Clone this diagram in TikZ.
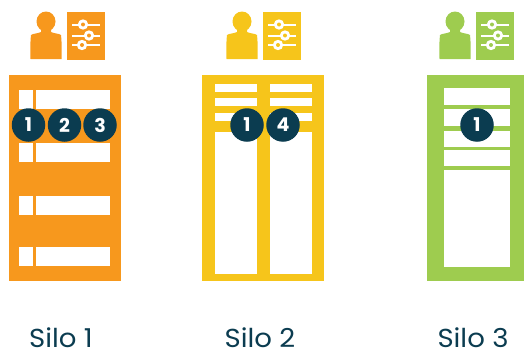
\documentclass[tikz,border=0pt]{standalone}
\usepackage{fontspec}
\setmainfont{Poppins}
\newfontfamily\silofont[FakeStretch=1.06]{Poppins}
\definecolor{navy}{HTML}{0B3C50}
\definecolor{orangeS}{HTML}{F7981D}
\definecolor{yellowS}{HTML}{F6C51B}
\definecolor{greenS}{HTML}{9ECC4F}
\tikzset{
  x=1pt,y=-1pt,
  badge/.style={circle,fill=navy,draw=none,minimum size=33.5pt,inner sep=0pt,text=white,font=\fontsize{19}{19}\selectfont\bfseries},
  silolabel/.style={text=navy,inner sep=0pt,anchor=base,font=\silofont\fontsize{26}{26}\selectfont},
  win/.style={fill=white,draw=none},
  slider/.style={draw=white,line width=2pt},
  pics/usericon/.style={code={
    \fill[#1] (-5,28) -- (5,28) -- (5,32)
      .. controls (8,33.5) and (13,33.5) .. (15,35)
      .. controls (16,44) and (15.5,52) .. (15.5,59)
      -- (-15.5,59)
      .. controls (-15.5,52) and (-16,44) .. (-15,35)
      .. controls (-13,33.5) and (-8,33.5) .. (-5,32) -- cycle;
    \fill[#1] (0,21.5) ellipse [x radius=9.5,y radius=10];
    \fill[#1] (21,12) rectangle (59,60);
    \draw[slider] (26,24.5) -- (54,24.5);
    \draw[slider] (26,35.5) -- (54,35.5);
    \draw[slider] (26,45) -- (54,45);
    \foreach \kx/\ky in {37/24.5,43/35.5,36/45}{
      \fill[white] (\kx,\ky) circle [radius=5.2];
      \fill[#1] (\kx,\ky) circle [radius=2];
    }
  }}
}
\begin{document}
\begin{tikzpicture}
\useasboundingbox (0,0) rectangle (524,348);
% icons
\pic at (46,0) {usericon=orangeS};
\pic at (242,0) {usericon=yellowS};
\pic at (455,0) {usericon=greenS};
% silo 1
\fill[orangeS] (9,75) rectangle (121,281);
\foreach \ya/\yb in {90/108.7,143/162,196/215,247/266}{
  \fill[win] (19,\ya) rectangle (33,\yb);
  \fill[win] (36,\ya) rectangle (110,\yb);
}
% silo 2
\fill[yellowS] (202,75) rectangle (324,281);
\foreach \ya/\yb in {84/92,98/106,113/121,132/274}{
  \fill[win] (215,\ya) rectangle (257,\yb);
  \fill[win] (270,\ya) rectangle (312,\yb);
}
% silo 3
\fill[greenS] (427,74.5) rectangle (524,281);
\foreach \ya/\yb in {88/105,109/126,131/147,150/166,170/267}{
  \fill[win] (444,\ya) rectangle (510,\yb);
}
% badges
\node[badge] (a1) at (28.5,125) {1};
\node[badge] (a2) at (64.5,125) {2};
\node[badge] (a3) at (100,125) {3};
\node[badge] (b1) at (247,125) {1};
\node[badge] (b4) at (283,125) {4};
\node[badge] (c1) at (477,125) {1};
% labels
\node[silolabel] (s1) at (61,347) {Silo 1};
\node[silolabel] (s2) at (260,347) {Silo 2};
\node[silolabel] (s3) at (473,347) {Silo 3};
\end{tikzpicture}
\end{document}
